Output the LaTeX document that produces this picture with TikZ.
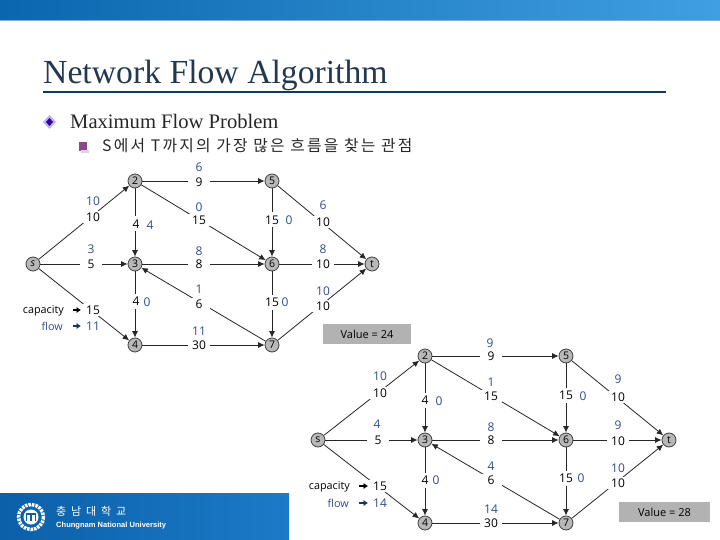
\documentclass[tikz,border=0pt]{standalone}
\usepackage{fontspec}
\setmainfont{Liberation Serif}
\newfontfamily\labelfont{Open Sans}
\newfontfamily\krfont[LetterSpace=14]{Noto Sans CJK KR}
\newfontfamily\krfootfont[LetterSpace=22]{Noto Sans CJK KR}
\newfontfamily\footfont{Liberation Sans}
\usetikzlibrary{arrows.meta}
\definecolor{flowblue}{HTML}{2F4A8C}
\definecolor{titleink}{HTML}{23384F}
\definecolor{rulenavy}{HTML}{0E3A5E}
\definecolor{bar1}{HTML}{0A66AE}
\definecolor{bar2}{HTML}{409FE0}
\definecolor{foot1}{HTML}{0B60A8}
\definecolor{foot2}{HTML}{1C7AC8}
\tikzset{
  x=1pt,y=-1pt,
  vertex/.style={circle,draw=black!75,fill=black!28,line width=0.8pt,minimum size=14pt,inner sep=0pt,font=\labelfont\fontsize{10.5}{10.5}\selectfont},
  linkarrow/.style={draw=black!85,line width=0.8pt,-{Latex[length=6.5pt,width=6pt]}},
  caplabel/.style={fill=white,inner sep=0pt,minimum width=22pt,minimum height=12pt,font=\labelfont\fontsize{12}{12}\selectfont,text=black},
  capv/.style={caplabel,minimum width=10pt,minimum height=15pt},
  flowv/.style={inner sep=0pt,font=\labelfont\fontsize{12}{12}\selectfont,text=flowblue},
  legendtext/.style={inner sep=0pt,font=\labelfont\fontsize{10.8}{10.8}\selectfont},
  legarrow/.style={line width=2pt,-{Latex[length=4.5pt,width=6.5pt]},draw=#1},
  valuebox/.style={fill=black!30,inner sep=0pt,font=\labelfont\fontsize{11}{11}\selectfont},
  txt/.style={inner sep=0pt,anchor=base west}
}
\begin{document}
\begin{tikzpicture}
\useasboundingbox (0,0) rectangle (720,540);
% chrome
\fill[left color=bar1,right color=bar2] (0,0) rectangle (720,20);
\fill[black!20!bar2!60] (0,20) rectangle (720,21.5);
\fill[left color=foot1,right color=foot2] (0,493) rectangle (289,540);
\node[txt,text=titleink,font=\fontsize{33.7}{33.7}\selectfont] (title) at (43,84) {Network Flow Algorithm};
\fill[rulenavy] (43,91.2) rectangle (666,93);
\fill[white!70!blue] (49.5,115) -- (56,122) -- (49.5,129) -- (43,122) -- cycle;
\fill[black!30!blue!70!purple] (49.5,118) -- (53,122) -- (49.5,126) -- (46,122) -- cycle;
\node[txt,text=black!85,font=\fontsize{20.6}{20.6}\selectfont] (h1) at (70,129) {Maximum Flow Problem};
\fill[violet!65!black!70] (79,142) -- (87,142) -- (87,151) -- (79,151) -- cycle;
\fill[violet!20] (81,150) rectangle (88.5,153);
\node[txt,text=black!85,font=\krfont\fontsize{15.8}{15.8}\selectfont] (h2) at (102,152) {S에서 T까지의 가장 많은 흐름을 찾는 관점};
% seal
\draw[white,line width=3.5pt,dash pattern=on 2.5pt off 1pt] (31,517) circle (12.5);
\fill[white] (31,517) circle (7.5);
\draw[foot1,line width=1.2pt] (26.5,521) -- (26.5,514) -- (35.5,514) -- (35.5,521) (31,514) -- (31,521);
\node[txt,text=white,font=\krfootfont\fontsize{11}{11}\selectfont] (uni) at (56,515.5) {충 남 대 학 교};
\node[txt,text=white,font=\footfont\bfseries\fontsize{7.55}{7.55}\selectfont] (unien) at (56,527.5) {Chungnam National University};

% ---- first network
\node[vertex] (as) at (33,264) {\itshape s};
\node[vertex] (a2) at (135,181) {2};
\node[vertex] (a3) at (135,264) {3};
\node[vertex] (a4) at (135,345) {4};
\node[vertex] (a5) at (272,181) {5};
\node[vertex] (a6) at (272,264) {6};
\node[vertex] (a7) at (272,345) {7};
\node[vertex] (at) at (372,264) {t};
\draw[linkarrow] (as) -- (a2);
\draw[linkarrow] (as) -- (a3);
\draw[linkarrow] (as) -- (a4);
\draw[linkarrow] (a2) -- (a3);
\draw[linkarrow] (a3) -- (a4);
\draw[linkarrow] (a2) -- (a5);
\draw[linkarrow] (a2) -- (a6);
\draw[linkarrow] (a3) -- (a6);
\draw[linkarrow] (a7) -- (a3);
\draw[linkarrow] (a4) -- (a7);
\draw[linkarrow] (a5) -- (a6);
\draw[linkarrow] (a6) -- (a7);
\draw[linkarrow] (a5) -- (at);
\draw[linkarrow] (a6) -- (at);
\draw[linkarrow] (a7) -- (at);
\node[caplabel] (ac1) at (93,217) {10}; \node[flowv] (af1) at (93,201) {10};
\node[caplabel] (ac2) at (91,264) {5};  \node[flowv] (af2) at (91,249) {3};
\node[caplabel] (ac3) at (93,310) {15}; \node[flowv] (af3) at (93,326) {11};
\node[capv] (ac4) at (136,224) {4}; \node[flowv] (af4) at (150,225) {4};
\node[capv] (ac5) at (136,301) {4}; \node[flowv] (af5) at (147,302) {0};
\node[caplabel] (ac6) at (199,182) {9};  \node[flowv] (af6) at (199,167) {6};
\node[caplabel] (ac7) at (199,220) {15}; \node[flowv] (af7) at (199,207) {0};
\node[caplabel] (ac8) at (199,264) {8};  \node[flowv] (af8) at (199,251) {8};
\node[caplabel] (ac9) at (199,304) {6};  \node[flowv] (af9) at (199,289) {1};
\node[caplabel] (ac10) at (199,345) {30}; \node[flowv] (af10) at (199,331) {11};
\node[capv,minimum width=14pt] (ac11) at (272,220) {15}; \node[flowv] (af11) at (289,220) {0};
\node[capv,minimum width=14pt] (ac12) at (272,302) {15}; \node[flowv] (af12) at (285,302) {0};
\node[caplabel] (ac13) at (323,222) {10}; \node[flowv] (af13) at (323,205) {6};
\node[caplabel] (ac14) at (323,264) {10}; \node[flowv] (af14) at (323,249) {8};
\node[caplabel] (ac15) at (323,306) {10}; \node[flowv] (af15) at (323,291) {10};
\node[legendtext,anchor=east,text=black] (al1) at (64,311) {capacity};
\node[legendtext,anchor=east,text=flowblue] (al2) at (63,326) {flow};
\coordinate (ap1) at (72.5,310); \coordinate (ap2) at (81,310);
\coordinate (ap3) at (72.5,326); \coordinate (ap4) at (81,326);
\draw[legarrow=black] (ap1) -- (ap2);
\draw[legarrow=rulenavy] (ap3) -- (ap4);
\node[valuebox,minimum width=88pt,minimum height=20pt] (av) at (367,334) {Value = 24};

% ---- second network
\node[vertex] (bs) at (318,440) {s};
\node[vertex] (b2) at (425,356) {2};
\node[vertex] (b3) at (425,440) {3};
\node[vertex] (b4) at (425,523) {4};
\node[vertex] (b5) at (566,356) {5};
\node[vertex] (b6) at (566,440) {6};
\node[vertex] (b7) at (566,523) {7};
\node[vertex] (bt) at (669,440) {t};
\draw[linkarrow] (bs) -- (b2);
\draw[linkarrow] (bs) -- (b3);
\draw[linkarrow] (bs) -- (b4);
\draw[linkarrow] (b2) -- (b3);
\draw[linkarrow] (b3) -- (b4);
\draw[linkarrow] (b2) -- (b5);
\draw[linkarrow] (b2) -- (b6);
\draw[linkarrow] (b3) -- (b6);
\draw[linkarrow] (b7) -- (b3);
\draw[linkarrow] (b4) -- (b7);
\draw[linkarrow] (b5) -- (b6);
\draw[linkarrow] (b6) -- (b7);
\draw[linkarrow] (b5) -- (bt);
\draw[linkarrow] (b6) -- (bt);
\draw[linkarrow] (b7) -- (bt);
\node[caplabel] (bc1) at (380,393) {10}; \node[flowv] (bf1) at (380,376) {10};
\node[caplabel] (bc2) at (378,440) {5};  \node[flowv] (bf2) at (377,424) {4};
\node[caplabel] (bc3) at (380,486) {15}; \node[flowv] (bf3) at (380,503) {14};
\node[capv] (bc4) at (425,400) {4}; \node[flowv] (bf4) at (439,401) {0};
\node[capv] (bc5) at (425,480) {4}; \node[flowv] (bf5) at (436,480) {0};
\node[caplabel] (bc6) at (491,356) {9};  \node[flowv] (bf6) at (490,343) {9};
\node[caplabel] (bc7) at (491,396) {15}; \node[flowv] (bf7) at (491,382) {1};
\node[caplabel] (bc8) at (491,440) {8};  \node[flowv] (bf8) at (491,427) {8};
\node[caplabel] (bc9) at (491,480) {6};  \node[flowv] (bf9) at (491,466) {4};
\node[caplabel] (bc10) at (491,523) {30}; \node[flowv] (bf10) at (491,509) {14};
\node[capv,minimum width=14pt] (bc11) at (566,395) {15}; \node[flowv] (bf11) at (583,396) {0};
\node[capv,minimum width=14pt] (bc12) at (566,478) {15}; \node[flowv] (bf12) at (581,478) {0};
\node[caplabel] (bc13) at (618,397) {10}; \node[flowv] (bf13) at (618,379) {9};
\node[caplabel] (bc14) at (618,441) {10}; \node[flowv] (bf14) at (618,425) {9};
\node[caplabel] (bc15) at (618,483) {10}; \node[flowv] (bf15) at (618,468) {10};
\node[legendtext,anchor=east,text=black] (bl1) at (350,487) {capacity};
\node[legendtext,anchor=east,text=flowblue] (bl2) at (349,503) {flow};
\coordinate (bp1) at (359,486); \coordinate (bp2) at (368,486);
\coordinate (bp3) at (359,503); \coordinate (bp4) at (368,503);
\draw[legarrow=black] (bp1) -- (bp2);
\draw[legarrow=rulenavy] (bp3) -- (bp4);
\node[valuebox,minimum width=91pt,minimum height=20pt] (bv) at (664.5,512) {Value = 28};
\end{tikzpicture}
\end{document}
